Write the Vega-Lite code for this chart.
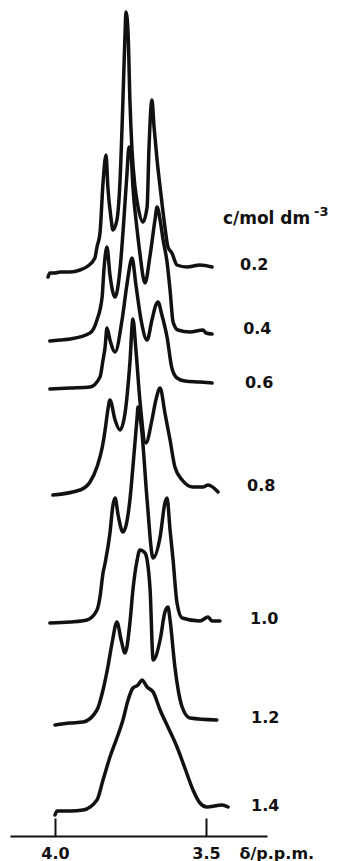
{
  "$schema": "https://vega.github.io/schema/vega-lite/v6.json",
  "width": 257,
  "height": 836,
  "padding": {"left": 10, "top": 0, "right": 0, "bottom": 0},
  "background": "white",
  "config": {"view": {"stroke": null}},
  "datasets": {
    "spectra": [
      {"c": "0.2", "ppm": 4.023, "h": 559}, {"c": "0.2", "ppm": 4.017, "h": 563}, {"c": "0.2", "ppm": 4.000, "h": 563}, {"c": "0.2", "ppm": 3.983, "h": 564}, {"c": "0.2", "ppm": 3.950, "h": 564}, {"c": "0.2", "ppm": 3.917, "h": 566}, {"c": "0.2", "ppm": 3.891, "h": 570}, {"c": "0.2", "ppm": 3.868, "h": 578}, {"c": "0.2", "ppm": 3.861, "h": 589}, {"c": "0.2", "ppm": 3.851, "h": 603}, {"c": "0.2", "ppm": 3.841, "h": 653}, {"c": "0.2", "ppm": 3.831, "h": 681}, {"c": "0.2", "ppm": 3.825, "h": 649}, {"c": "0.2", "ppm": 3.815, "h": 619}, {"c": "0.2", "ppm": 3.808, "h": 606}, {"c": "0.2", "ppm": 3.795, "h": 616}, {"c": "0.2", "ppm": 3.785, "h": 653}, {"c": "0.2", "ppm": 3.775, "h": 736}, {"c": "0.2", "ppm": 3.768, "h": 803}, {"c": "0.2", "ppm": 3.765, "h": 824}, {"c": "0.2", "ppm": 3.758, "h": 803}, {"c": "0.2", "ppm": 3.752, "h": 736}, {"c": "0.2", "ppm": 3.745, "h": 686}, {"c": "0.2", "ppm": 3.735, "h": 649}, {"c": "0.2", "ppm": 3.725, "h": 629}, {"c": "0.2", "ppm": 3.709, "h": 614}, {"c": "0.2", "ppm": 3.695, "h": 629}, {"c": "0.2", "ppm": 3.689, "h": 686}, {"c": "0.2", "ppm": 3.679, "h": 736}, {"c": "0.2", "ppm": 3.672, "h": 709}, {"c": "0.2", "ppm": 3.662, "h": 676}, {"c": "0.2", "ppm": 3.652, "h": 649}, {"c": "0.2", "ppm": 3.636, "h": 609}, {"c": "0.2", "ppm": 3.626, "h": 589}, {"c": "0.2", "ppm": 3.613, "h": 583}, {"c": "0.2", "ppm": 3.596, "h": 571}, {"c": "0.2", "ppm": 3.563, "h": 569}, {"c": "0.2", "ppm": 3.520, "h": 571}, {"c": "0.2", "ppm": 3.480, "h": 569},

      {"c": "0.4", "ppm": 4.017, "h": 495}, {"c": "0.4", "ppm": 3.983, "h": 496}, {"c": "0.4", "ppm": 3.950, "h": 497}, {"c": "0.4", "ppm": 3.884, "h": 503}, {"c": "0.4", "ppm": 3.861, "h": 516}, {"c": "0.4", "ppm": 3.844, "h": 539}, {"c": "0.4", "ppm": 3.838, "h": 566}, {"c": "0.4", "ppm": 3.828, "h": 589}, {"c": "0.4", "ppm": 3.818, "h": 561}, {"c": "0.4", "ppm": 3.801, "h": 539}, {"c": "0.4", "ppm": 3.785, "h": 566}, {"c": "0.4", "ppm": 3.772, "h": 616}, {"c": "0.4", "ppm": 3.762, "h": 661}, {"c": "0.4", "ppm": 3.755, "h": 689}, {"c": "0.4", "ppm": 3.748, "h": 681}, {"c": "0.4", "ppm": 3.742, "h": 649}, {"c": "0.4", "ppm": 3.728, "h": 606}, {"c": "0.4", "ppm": 3.719, "h": 583}, {"c": "0.4", "ppm": 3.702, "h": 553}, {"c": "0.4", "ppm": 3.685, "h": 581}, {"c": "0.4", "ppm": 3.669, "h": 616}, {"c": "0.4", "ppm": 3.662, "h": 629}, {"c": "0.4", "ppm": 3.652, "h": 616}, {"c": "0.4", "ppm": 3.642, "h": 596}, {"c": "0.4", "ppm": 3.629, "h": 574}, {"c": "0.4", "ppm": 3.619, "h": 546}, {"c": "0.4", "ppm": 3.609, "h": 514}, {"c": "0.4", "ppm": 3.593, "h": 506}, {"c": "0.4", "ppm": 3.553, "h": 504}, {"c": "0.4", "ppm": 3.510, "h": 506}, {"c": "0.4", "ppm": 3.500, "h": 503}, {"c": "0.4", "ppm": 3.480, "h": 502},

      {"c": "0.6", "ppm": 4.017, "h": 447}, {"c": "0.6", "ppm": 3.950, "h": 448}, {"c": "0.6", "ppm": 3.884, "h": 449}, {"c": "0.6", "ppm": 3.851, "h": 459}, {"c": "0.6", "ppm": 3.841, "h": 476}, {"c": "0.6", "ppm": 3.834, "h": 489}, {"c": "0.6", "ppm": 3.828, "h": 508}, {"c": "0.6", "ppm": 3.818, "h": 496}, {"c": "0.6", "ppm": 3.801, "h": 484}, {"c": "0.6", "ppm": 3.778, "h": 516}, {"c": "0.6", "ppm": 3.762, "h": 551}, {"c": "0.6", "ppm": 3.748, "h": 576}, {"c": "0.6", "ppm": 3.745, "h": 578}, {"c": "0.6", "ppm": 3.732, "h": 551}, {"c": "0.6", "ppm": 3.715, "h": 516}, {"c": "0.6", "ppm": 3.695, "h": 496}, {"c": "0.6", "ppm": 3.679, "h": 516}, {"c": "0.6", "ppm": 3.666, "h": 531}, {"c": "0.6", "ppm": 3.659, "h": 534}, {"c": "0.6", "ppm": 3.646, "h": 521}, {"c": "0.6", "ppm": 3.629, "h": 499}, {"c": "0.6", "ppm": 3.613, "h": 468}, {"c": "0.6", "ppm": 3.596, "h": 458}, {"c": "0.6", "ppm": 3.570, "h": 455}, {"c": "0.6", "ppm": 3.520, "h": 454}, {"c": "0.6", "ppm": 3.480, "h": 453},

      {"c": "0.8", "ppm": 4.007, "h": 341}, {"c": "0.8", "ppm": 3.917, "h": 346}, {"c": "0.8", "ppm": 3.884, "h": 354}, {"c": "0.8", "ppm": 3.861, "h": 369}, {"c": "0.8", "ppm": 3.844, "h": 388}, {"c": "0.8", "ppm": 3.834, "h": 406}, {"c": "0.8", "ppm": 3.825, "h": 426}, {"c": "0.8", "ppm": 3.818, "h": 436}, {"c": "0.8", "ppm": 3.801, "h": 416}, {"c": "0.8", "ppm": 3.785, "h": 406}, {"c": "0.8", "ppm": 3.768, "h": 423}, {"c": "0.8", "ppm": 3.752, "h": 473}, {"c": "0.8", "ppm": 3.742, "h": 517}, {"c": "0.8", "ppm": 3.732, "h": 486}, {"c": "0.8", "ppm": 3.719, "h": 436}, {"c": "0.8", "ppm": 3.699, "h": 393}, {"c": "0.8", "ppm": 3.679, "h": 416}, {"c": "0.8", "ppm": 3.666, "h": 436}, {"c": "0.8", "ppm": 3.652, "h": 448}, {"c": "0.8", "ppm": 3.636, "h": 423}, {"c": "0.8", "ppm": 3.619, "h": 396}, {"c": "0.8", "ppm": 3.603, "h": 369}, {"c": "0.8", "ppm": 3.579, "h": 356}, {"c": "0.8", "ppm": 3.543, "h": 349}, {"c": "0.8", "ppm": 3.510, "h": 349}, {"c": "0.8", "ppm": 3.493, "h": 351}, {"c": "0.8", "ppm": 3.460, "h": 344},

      {"c": "1.0", "ppm": 4.017, "h": 213}, {"c": "1.0", "ppm": 3.950, "h": 214}, {"c": "1.0", "ppm": 3.894, "h": 216}, {"c": "1.0", "ppm": 3.861, "h": 226}, {"c": "1.0", "ppm": 3.851, "h": 239}, {"c": "1.0", "ppm": 3.841, "h": 263}, {"c": "1.0", "ppm": 3.834, "h": 273}, {"c": "1.0", "ppm": 3.818, "h": 303}, {"c": "1.0", "ppm": 3.808, "h": 331}, {"c": "1.0", "ppm": 3.801, "h": 338}, {"c": "1.0", "ppm": 3.791, "h": 321}, {"c": "1.0", "ppm": 3.775, "h": 304}, {"c": "1.0", "ppm": 3.752, "h": 336}, {"c": "1.0", "ppm": 3.742, "h": 369}, {"c": "1.0", "ppm": 3.728, "h": 419}, {"c": "1.0", "ppm": 3.725, "h": 429}, {"c": "1.0", "ppm": 3.719, "h": 421}, {"c": "1.0", "ppm": 3.712, "h": 403}, {"c": "1.0", "ppm": 3.695, "h": 336}, {"c": "1.0", "ppm": 3.675, "h": 278}, {"c": "1.0", "ppm": 3.652, "h": 299}, {"c": "1.0", "ppm": 3.636, "h": 333}, {"c": "1.0", "ppm": 3.629, "h": 338}, {"c": "1.0", "ppm": 3.619, "h": 306}, {"c": "1.0", "ppm": 3.609, "h": 276}, {"c": "1.0", "ppm": 3.596, "h": 233}, {"c": "1.0", "ppm": 3.579, "h": 218}, {"c": "1.0", "ppm": 3.520, "h": 215}, {"c": "1.0", "ppm": 3.493, "h": 219}, {"c": "1.0", "ppm": 3.480, "h": 215}, {"c": "1.0", "ppm": 3.454, "h": 215},

      {"c": "1.2", "ppm": 4.000, "h": 111}, {"c": "1.2", "ppm": 3.950, "h": 113}, {"c": "1.2", "ppm": 3.907, "h": 114}, {"c": "1.2", "ppm": 3.861, "h": 126}, {"c": "1.2", "ppm": 3.841, "h": 146}, {"c": "1.2", "ppm": 3.825, "h": 169}, {"c": "1.2", "ppm": 3.811, "h": 193}, {"c": "1.2", "ppm": 3.795, "h": 214}, {"c": "1.2", "ppm": 3.781, "h": 196}, {"c": "1.2", "ppm": 3.768, "h": 183}, {"c": "1.2", "ppm": 3.752, "h": 213}, {"c": "1.2", "ppm": 3.742, "h": 246}, {"c": "1.2", "ppm": 3.728, "h": 276}, {"c": "1.2", "ppm": 3.719, "h": 286}, {"c": "1.2", "ppm": 3.702, "h": 283}, {"c": "1.2", "ppm": 3.695, "h": 276}, {"c": "1.2", "ppm": 3.685, "h": 246}, {"c": "1.2", "ppm": 3.675, "h": 176}, {"c": "1.2", "ppm": 3.652, "h": 196}, {"c": "1.2", "ppm": 3.636, "h": 224}, {"c": "1.2", "ppm": 3.626, "h": 229}, {"c": "1.2", "ppm": 3.619, "h": 216}, {"c": "1.2", "ppm": 3.603, "h": 169}, {"c": "1.2", "ppm": 3.579, "h": 129}, {"c": "1.2", "ppm": 3.553, "h": 118}, {"c": "1.2", "ppm": 3.464, "h": 116},

      {"c": "1.4", "ppm": 4.000, "h": 21}, {"c": "1.4", "ppm": 3.993, "h": 25}, {"c": "1.4", "ppm": 3.950, "h": 25}, {"c": "1.4", "ppm": 3.907, "h": 26}, {"c": "1.4", "ppm": 3.861, "h": 36}, {"c": "1.4", "ppm": 3.841, "h": 56}, {"c": "1.4", "ppm": 3.818, "h": 79}, {"c": "1.4", "ppm": 3.795, "h": 98}, {"c": "1.4", "ppm": 3.775, "h": 116}, {"c": "1.4", "ppm": 3.758, "h": 136}, {"c": "1.4", "ppm": 3.742, "h": 148}, {"c": "1.4", "ppm": 3.725, "h": 151}, {"c": "1.4", "ppm": 3.712, "h": 156}, {"c": "1.4", "ppm": 3.695, "h": 149}, {"c": "1.4", "ppm": 3.675, "h": 144}, {"c": "1.4", "ppm": 3.652, "h": 126}, {"c": "1.4", "ppm": 3.626, "h": 109}, {"c": "1.4", "ppm": 3.596, "h": 89}, {"c": "1.4", "ppm": 3.570, "h": 68}, {"c": "1.4", "ppm": 3.543, "h": 46}, {"c": "1.4", "ppm": 3.520, "h": 33}, {"c": "1.4", "ppm": 3.497, "h": 29}, {"c": "1.4", "ppm": 3.447, "h": 31}, {"c": "1.4", "ppm": 3.427, "h": 29}
    ],
    "labels": [
      {"label": "0.2", "ppm": 3.387, "h": 571},
      {"label": "0.4", "ppm": 3.377, "h": 507},
      {"label": "0.6", "ppm": 3.371, "h": 453},
      {"label": "0.8", "ppm": 3.364, "h": 350},
      {"label": "1.0", "ppm": 3.354, "h": 217},
      {"label": "1.2", "ppm": 3.351, "h": 118},
      {"label": "1.4", "ppm": 3.351, "h": 30}
    ],
    "header": [
      {"text": "c/mol dm", "ppm": 3.444, "h": 612, "size": "main"},
      {"text": "-3", "ppm": 3.142, "h": 620, "size": "sup"}
    ]
  },
  "layer": [
    {
      "data": {"name": "spectra"},
      "mark": {"type": "line", "color": "#111111", "strokeWidth": 3.5, "strokeJoin": "round", "strokeCap": "round", "interpolate": "monotone"},
      "encoding": {
        "x": {
          "field": "ppm", "type": "quantitative",
          "scale": {"domain": [4.149, 3.298], "nice": false, "zero": false},
          "axis": {
            "values": [4.0, 3.5], "format": ".1f", "grid": false,
            "domainColor": "#111111", "domainWidth": 2,
            "tickColor": "#111111", "tickWidth": 2, "tickSize": -18,
            "labelPadding": 40, "labelBaseline": "alphabetic",
            "labelFont": "DejaVu Sans", "labelFontSize": 16, "labelFontWeight": "bold", "labelColor": "#111111",
            "title": "δ/p.p.m.", "titleX": 229, "titleY": 22, "titleAlign": "left", "titleBaseline": "alphabetic", "titleAnchor": null,
            "titleFont": "DejaVu Sans", "titleFontSize": 16, "titleFontWeight": "bold", "titleColor": "#111111"
          }
        },
        "y": {"field": "h", "type": "quantitative", "scale": {"domain": [0, 836], "nice": false}, "axis": null},
        "detail": {"field": "c"}
      }
    },
    {
      "data": {"name": "labels"},
      "mark": {"type": "text", "align": "left", "baseline": "middle", "font": "DejaVu Sans", "fontSize": 16, "fontWeight": "bold", "color": "#111111"},
      "encoding": {
        "x": {"field": "ppm", "type": "quantitative"},
        "y": {"field": "h", "type": "quantitative"},
        "text": {"field": "label"}
      }
    },
    {
      "data": {"name": "header"},
      "mark": {"type": "text", "align": "left", "baseline": "alphabetic", "font": "DejaVu Sans", "fontWeight": "bold", "color": "#111111"},
      "encoding": {
        "x": {"field": "ppm", "type": "quantitative"},
        "y": {"field": "h", "type": "quantitative"},
        "text": {"field": "text"},
        "size": {"field": "size", "type": "nominal", "scale": {"domain": ["main", "sup"], "range": [17, 13]}, "legend": null}
      }
    }
  ]
}
